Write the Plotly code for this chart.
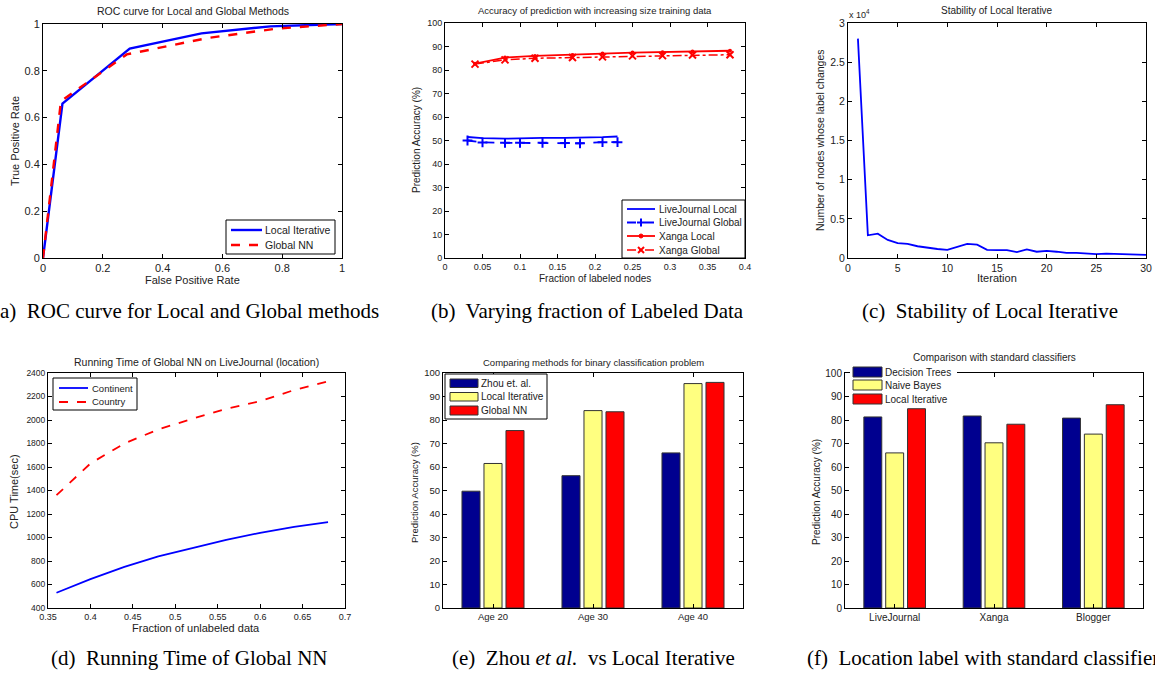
import plotly.graph_objects as go

# ---------------- data ----------------
# (a) ROC
roc_fpr_local = [0, 0.065, 0.29, 0.53, 0.76, 1.0]
roc_tpr_local = [0, 0.66, 0.895, 0.96, 0.99, 1.0]
roc_fpr_global = [0, 0.06, 0.28, 0.55, 0.78, 1.0]
roc_tpr_global = [0, 0.67, 0.87, 0.94, 0.98, 1.0]

# (b) accuracy vs fraction labeled
lj_frac = [0.03, 0.05, 0.08, 0.10, 0.13, 0.16, 0.18, 0.21, 0.23]
lj_local = [51.5, 51.0, 50.8, 51.0, 51.1, 51.1, 51.1, 51.4, 51.7]
lj_global = [50.0, 49.2, 49.0, 49.0, 49.0, 48.9, 48.8, 49.3, 49.3]
xa_frac = [0.04, 0.08, 0.12, 0.17, 0.21, 0.25, 0.29, 0.33, 0.38]
xa_local = [82.7, 85.3, 86.0, 86.4, 87.0, 87.4, 87.6, 87.9, 88.2]
xa_global = [82.5, 84.3, 85.0, 85.3, 85.6, 86.0, 86.1, 86.4, 86.5]

# (c) stability
iterations = list(range(1, 31))
label_changes = [28000, 2900, 3100, 2300, 1900, 1800, 1500, 1300, 1150, 1050,
                 1400, 1800, 1700, 1050, 1000, 1000, 750, 1100, 800, 900,
                 800, 650, 650, 550, 500, 550, 500, 450, 400, 400]

# (d) running time
unlab_frac = [0.36, 0.40, 0.44, 0.48, 0.52, 0.56, 0.60, 0.64, 0.68]
cpu_continent = [530, 645, 750, 840, 910, 980, 1040, 1090, 1130]
cpu_country = [1360, 1630, 1800, 1920, 2010, 2095, 2160, 2255, 2330]

# (e) binary classification
age_cats = ["Age 20", "Age 30", "Age 40"]
zhou_acc = [49.7, 56.3, 66.0]
local_acc = [61.5, 84.0, 95.5]
global_acc = [75.5, 83.5, 96.0]

# (f) standard classifiers
site_cats = ["LiveJournal", "Xanga", "Blogger"]
dtree_acc = [81.3, 81.7, 80.8]
nbayes_acc = [66.0, 70.3, 74.0]
liter_acc = [84.8, 78.2, 86.5]

# ---------------- styling ----------------
W, H = 1155, 675
FONT = "Liberation Sans, Arial, sans-serif"
SERIF = "Liberation Serif, Times New Roman, serif"
NAVY = "#00008F"
YEL = "#FFFF80"
RED = "#FF0000"
BLUE = "#0000FF"
TXT = "#222"


def PX(x):
    return x / W


def PY(y):
    return 1 - y / H


def axis(dom, rng=None, dtick=None, tick0=None, anchor=None, size=10, **kw):
    d = dict(domain=dom, showline=True, linecolor="black", linewidth=1,
             mirror="ticks", ticks="inside", ticklen=4, tickcolor="black",
             showgrid=False, zeroline=False, automargin=False,
             tickfont=dict(family=FONT, size=size, color=TXT), anchor=anchor)
    if rng is not None:
        d["range"] = rng
    if dtick is not None:
        d["dtick"] = dtick
    if tick0 is not None:
        d["tick0"] = tick0
    d.update(kw)
    return d


fig = go.Figure()

# (a)
fig.add_trace(go.Scatter(x=roc_fpr_local, y=roc_tpr_local, mode="lines", name="Local Iterative",
                         line=dict(color=BLUE, width=2.4), xaxis="x", yaxis="y"))
fig.add_trace(go.Scatter(x=roc_fpr_global, y=roc_tpr_global, mode="lines", name="Global NN",
                         line=dict(color=RED, width=2.4, dash="dash"), xaxis="x", yaxis="y"))

# (b)
fig.add_trace(go.Scatter(x=lj_frac, y=lj_local, mode="lines", name="LiveJournal Local",
                         line=dict(color=BLUE, width=1.8), xaxis="x2", yaxis="y2"))
fig.add_trace(go.Scatter(x=lj_frac, y=lj_global, mode="lines+markers", name="LiveJournal Global",
                         line=dict(color=BLUE, width=1.8, dash="dash"),
                         marker=dict(symbol="cross-thin", size=7, line=dict(color=BLUE, width=2)),
                         xaxis="x2", yaxis="y2"))
fig.add_trace(go.Scatter(x=xa_frac, y=xa_local, mode="lines+markers", name="Xanga Local",
                         line=dict(color=RED, width=1.8), marker=dict(symbol="circle", size=4, color=RED),
                         xaxis="x2", yaxis="y2"))
fig.add_trace(go.Scatter(x=xa_frac, y=xa_global, mode="lines+markers", name="Xanga Global",
                         line=dict(color=RED, width=1.5, dash="dashdot"),
                         marker=dict(symbol="x-thin", size=7, line=dict(color=RED, width=2)),
                         xaxis="x2", yaxis="y2"))

# (c)
fig.add_trace(go.Scatter(x=iterations, y=label_changes, mode="lines", name="changes",
                         line=dict(color=BLUE, width=1.8), xaxis="x3", yaxis="y3"))

# (d)
fig.add_trace(go.Scatter(x=unlab_frac, y=cpu_continent, mode="lines", name="Continent",
                         line=dict(color=BLUE, width=1.8), xaxis="x4", yaxis="y4"))
fig.add_trace(go.Scatter(x=unlab_frac, y=cpu_country, mode="lines", name="Country",
                         line=dict(color=RED, width=1.8, dash="dash"), xaxis="x4", yaxis="y4"))

# (e)
for name, vals, col in [("Zhou et. al.", zhou_acc, NAVY), ("Local Iterative", local_acc, YEL),
                        ("Global NN", global_acc, RED)]:
    fig.add_trace(go.Bar(x=age_cats, y=vals, name=name,
                         marker=dict(color=col, line=dict(color="#333", width=1)),
                         xaxis="x5", yaxis="y5"))

# (f)
for name, vals, col in [("Decision Trees", dtree_acc, NAVY), ("Naive Bayes", nbayes_acc, YEL),
                        ("Local Iterative", liter_acc, RED)]:
    fig.add_trace(go.Bar(x=site_cats, y=vals, name=name,
                         marker=dict(color=col, line=dict(color="#333", width=1)),
                         xaxis="x6", yaxis="y6"))


def dx(a, b):
    return [PX(a), PX(b)]


def dy(top, bottom):
    return [PY(bottom), PY(top)]


c_ticks = [0, 5000, 10000, 15000, 20000, 25000, 30000]
c_text = ["0", "0.5", "1", "1.5", "2", "2.5", "3"]

fig.update_layout(
    width=W, height=H, autosize=False, margin=dict(l=0, r=0, t=0, b=0, pad=0),
    paper_bgcolor="white", plot_bgcolor="white", showlegend=False,
    barmode="group", bargap=0.34, bargroupgap=0.18,
    xaxis=axis(dx(43, 342), [0, 1], 0.2, anchor="y", size=11),
    yaxis=axis(dy(24, 258), [0, 1], 0.2, anchor="x", size=11),
    xaxis2=axis(dx(445, 745), [0, 0.4], 0.05, anchor="y2", size=9),
    yaxis2=axis(dy(23, 258), [0, 100], 10, anchor="x2", size=9),
    xaxis3=axis(dx(848, 1146), [0, 30], 5, anchor="y3", size=10.5),
    yaxis3=axis(dy(23, 258), [0, 30000], anchor="x3", size=10.5,
                tickmode="array", tickvals=c_ticks, ticktext=c_text),
    xaxis4=axis(dx(48, 345), [0.35, 0.7], 0.05, tick0=0.35, anchor="y4", size=9),
    yaxis4=axis(dy(373, 608), [400, 2400], 200, anchor="x4", size=8.5),
    xaxis5=axis(dx(443, 743), [-0.5, 2.5], anchor="y5", size=9.5),
    yaxis5=axis(dy(373, 608), [0, 100], 10, anchor="x5", size=9.5),
    xaxis6=axis(dx(845, 1143), [-0.5, 2.5], anchor="y6", size=10),
    yaxis6=axis(dy(373, 608), [0, 100], 10, anchor="x6", size=10),
)


def label(t, x, y, size, angle=0, anchor="center"):
    fig.add_annotation(text=t, x=PX(x), y=PY(y), xref="paper", yref="paper",
                       showarrow=False, xanchor=anchor, yanchor="middle", textangle=angle,
                       font=dict(family=FONT, size=size, color=TXT))


# ---------------- titles ----------------
label("ROC curve for Local and Global Methods", (43 + 342) / 2, 11, 10.5)
label("Accuracy of prediction with increasing size training data", (445 + 745) / 2, 11, 9.5)
label("Stability of Local Iterative", (848 + 1146) / 2, 11, 10)
label("Running Time of Global NN on LiveJournal (location)", (48 + 345) / 2, 362, 10.5)
label("Comparing methods for binary classification problem", (443 + 743) / 2, 362, 9.5)
label("Comparison with standard classifiers", (845 + 1143) / 2, 357, 10)
label("x 10<sup>4</sup>", 847, 14, 9, anchor="left")

# ---------------- axis titles ----------------
label("False Positive Rate", 192, 280, 11)
label("True Positive Rate", 15, 141, 11, angle=-90)
label("Fraction of labeled nodes", 595, 278, 10)
label("Prediction Accuracy (%)", 417, 140, 10, angle=-90)
label("Iteration", 997, 278, 11)
label("Number of nodes whose label changes", 820, 140, 10.5, angle=-90)
label("Fraction of unlabeled data", 196, 628, 11)
label("CPU Time(sec)", 14, 492, 11, angle=-90)
label("Prediction Accuracy (%)", 414, 493, 9.5, angle=-90)
label("Prediction Accuracy (%)", 816, 492, 10, angle=-90)


# ---------------- manual legends ----------------
def rect(x0, y0, x1, y1, fill="white", line="black", lw=1):
    fig.add_shape(type="rect", xref="paper", yref="paper", x0=PX(x0), x1=PX(x1), y0=PY(y1), y1=PY(y0),
                  fillcolor=fill, line=dict(color=line, width=lw), layer="above")


def seg(x0, y0, x1, y1, color, width=1.8, dash="solid"):
    fig.add_shape(type="line", xref="paper", yref="paper", x0=PX(x0), x1=PX(x1), y0=PY(y0), y1=PY(y1),
                  line=dict(color=color, width=width, dash=dash), layer="above")


def dot(cx, cy, r, color):
    fig.add_shape(type="circle", xref="paper", yref="paper", x0=PX(cx - r), x1=PX(cx + r),
                  y0=PY(cy + r), y1=PY(cy - r), fillcolor=color, line=dict(color=color, width=1), layer="above")


# (a)
rect(226, 220, 335, 254)
seg(231, 230, 262, 230, BLUE, 2.4)
seg(231, 245, 262, 245, RED, 2.4, "dash")
label("Local Iterative", 263, 230, 10.5, anchor="left")
label("Global NN", 263, 245, 10.5, anchor="left")

# (b)
rect(622, 200, 745, 258)
ys = [209, 222.5, 236, 250]
seg(627, ys[0], 655, ys[0], BLUE, 1.8)
seg(627, ys[1], 655, ys[1], BLUE, 1.8, "dash")
seg(637, ys[1], 645, ys[1], BLUE, 2)
seg(641, ys[1] - 4, 641, ys[1] + 4, BLUE, 2)
seg(627, ys[2], 655, ys[2], RED, 1.8)
dot(641, ys[2], 2, RED)
seg(627, ys[3], 655, ys[3], RED, 1.5, "dashdot")
seg(638, ys[3] - 3, 644, ys[3] + 3, RED, 2)
seg(638, ys[3] + 3, 644, ys[3] - 3, RED, 2)
for yy, t in zip(ys, ["LiveJournal Local", "LiveJournal Global", "Xanga Local", "Xanga Global"]):
    label(t, 657, yy, 10, anchor="left")

# (d)
rect(53, 378, 137, 410)
seg(59, 388, 88, 388, BLUE, 1.8)
seg(59, 402, 88, 402, RED, 1.8, "dash")
label("Continent", 90, 388, 9.5, anchor="left")
label("Country", 90, 402, 9.5, anchor="left")

# (e)
rect(445, 374, 547, 419)
for (y0, y1, col, t) in [(379, 387.5, NAVY, "Zhou et. al."), (392.5, 401, YEL, "Local Iterative"),
                         (406, 415, RED, "Global NN")]:
    rect(450, y0, 478, y1, fill=col, line="#333")
    label(t, 479, (y0 + y1) / 2, 10, anchor="left")

# (f)
rect(850, 363, 957, 407, fill="white", line="white", lw=0)
for (y0, y1, col, t) in [(367, 377, NAVY, "Decision Trees"), (380, 390, YEL, "Naive Bayes"),
                         (394, 404, RED, "Local Iterative")]:
    rect(853, y0, 882, y1, fill=col, line="#333")
    label(t, 883, (y0 + y1) / 2, 10, anchor="left")

# ---------------- captions ----------------
captions = [
    ("(a)  ROC curve for Local and Global methods", 381, 311, "right"),
    ("(b)  Varying fraction of Labeled Data", 588, 311, "center"),
    ("(c)  Stability of Local Iterative", 990, 311, "center"),
    ("(d)  Running Time of Global NN", 189, 658, "center"),
    ("(e)  Zhou <i>et al.</i>  vs Local Iterative", 593, 658, "center"),
    ("(f)  Location label with standard classifiers", 805, 658, "left"),
]
for t, xc, yc, anc in captions:
    fig.add_annotation(text=t, x=PX(xc), y=PY(yc), xref="paper", yref="paper",
                       showarrow=False, xanchor=anc, yanchor="middle",
                       font=dict(family=SERIF, size=21, color="black"))

fig.write_html("out.html", config={"displayModeBar": False},
               post_script="document.body.style.margin='0px';")
